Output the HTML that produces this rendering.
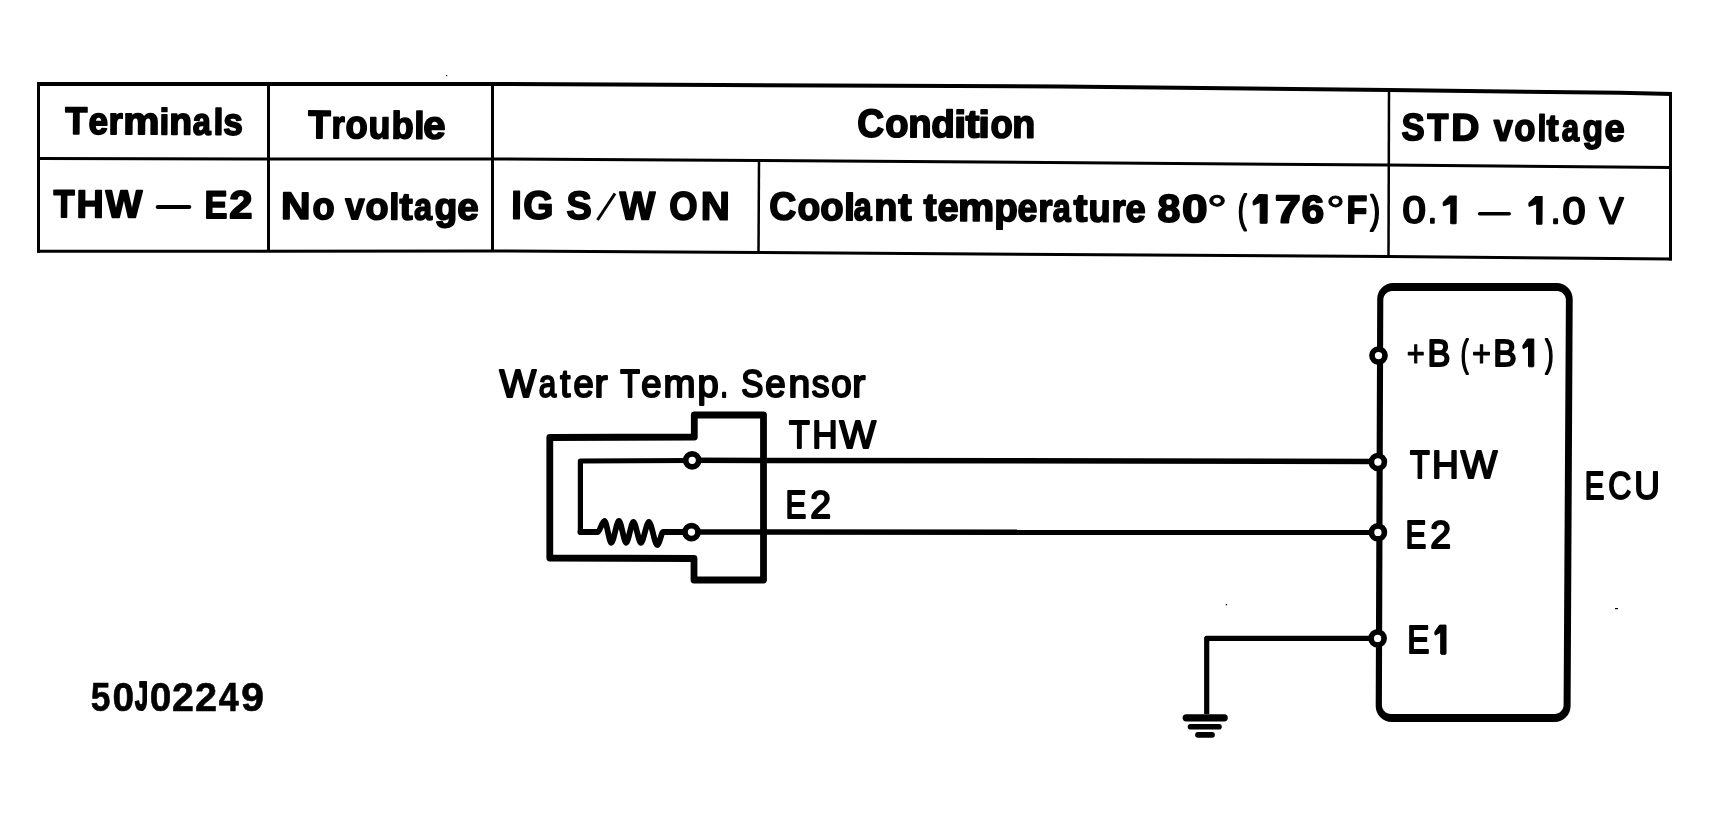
<!DOCTYPE html>
<html><head><meta charset="utf-8"><style>
html,body{margin:0;padding:0;background:#fff;overflow:hidden;}
svg{display:block;}
text{font-family:"Liberation Sans",sans-serif;}
.tx{opacity:0.999;will-change:transform;}
</style></head><body>
<svg width="1709" height="813" viewBox="0 0 1709 813">
<rect width="1709" height="813" fill="#fff"/>

<g fill="none" stroke="#000" stroke-linecap="butt">
 <polyline stroke-width="4" points="37,84 490,84 720,85 1060,86.5 1389,90 1620,92.8 1672,94"/>
 <polyline stroke-width="3" points="38,158.5 268,159 492,159 758,160.5 1388,165 1671,167.5"/>
 <polyline stroke-width="3" points="37,251.3 492,251 759,252.5 1060,254.5 1389,256.5 1672,259"/>
 <line stroke-width="3" x1="38.5" y1="82" x2="38.5" y2="252.8"/>
 <line stroke-width="3" x1="1670.5" y1="92" x2="1670.5" y2="260.5"/>
 <line stroke-width="3" x1="268.5" y1="84" x2="268.5" y2="251"/>
 <line stroke-width="3" x1="492.5" y1="84" x2="492.5" y2="251"/>
 <line stroke-width="2.5" x1="759" y1="160.5" x2="758.5" y2="252.5"/>
 <line stroke-width="2.5" x1="1389" y1="90" x2="1388.5" y2="256.5"/>
</g>
<g stroke="#000" fill="#000">
 <line stroke-width="4.2" stroke-linecap="round" x1="157.8" y1="207" x2="189.2" y2="207"/>
 <line stroke-width="3.5" stroke-linecap="round" x1="1479.6" y1="213.8" x2="1509.2" y2="213.8"/>
 <line stroke-width="3" stroke-linecap="butt" x1="597.5" y1="220" x2="615" y2="193.5"/>
</g>


<g fill="none" stroke="#000">
 <!-- sensor housing -->
 <path stroke-width="6.8" stroke-linejoin="round" d="M694.3,437 L549.8,437.5 L549.8,558 L694,558.5 L694,580 L763.5,580 L763.5,415 L694.3,415 Z"/>
 <!-- inner wire loop -->
 <path stroke-width="5.2" stroke-linejoin="round" d="M692,460.5 L580.4,461 L580.4,532 L598,532"/>
 <path stroke-width="5.8" stroke-linejoin="round" stroke-linecap="round" d="M580.4,532 L598,532 C599.5,532 602.3,520.9 604.5,520.9 C606.54,520.9 609.26,542.8 611.3,542.8 C613.58,542.8 616.62,520.9 618.9,520.9 C621.09,520.9 624.01,542.8 626.2,542.8 C628.36,542.8 631.24,521.8 633.4,521.8 C635.65,521.8 638.65,542.8 640.9,542.8 C643.30,542.8 646.50,521.8 648.9,521.8 C651.39,521.8 654.71,545 657.2,545 C659.4000000000001,545 661.5,532 663,532 L692,532"/>
 <!-- wires to ECU -->
 <line stroke-width="5.5" x1="692" y1="460.3" x2="1378" y2="461.5"/>
 <line stroke-width="5.5" x1="692" y1="532" x2="1378" y2="532.3"/>
 <!-- ECU box -->
 <path fill="#000" stroke="none" fill-rule="evenodd" d="M1393.20,283.10 L1556.70,283.10 C1565.50,283.10 1572.70,290.30 1572.70,299.10 L1570.60,705.90 C1570.60,714.70 1563.40,721.90 1554.60,721.90 L1391.70,721.90 C1382.90,721.90 1375.70,714.70 1375.70,705.90 L1377.20,299.10 C1377.20,290.30 1384.40,283.10 1393.20,283.10 Z M1392.30,290.90 L1556.90,290.90 C1561.85,290.90 1565.90,294.95 1565.90,299.90 L1563.60,705.00 C1563.60,709.95 1559.55,714.00 1554.60,714.00 L1390.90,714.00 C1385.95,714.00 1381.90,709.95 1381.90,705.00 L1383.30,299.90 C1383.30,294.95 1387.35,290.90 1392.30,290.90 Z"/>
 <!-- ground wire -->
 <path stroke-width="5.2" stroke-linejoin="round" d="M1377.6,638.4 L1206.7,638.4 L1206.7,714"/>
</g>
<g stroke="#000" stroke-linecap="round">
 <line stroke-width="7.2" x1="1186.2" y1="717.8" x2="1224.2" y2="717.8"/>
 <line stroke-width="5.6" x1="1190.5" y1="726.8" x2="1219" y2="726.8"/>
 <line stroke-width="5.8" x1="1198" y1="734.8" x2="1212" y2="734.8"/>
</g>
<g fill="#000">
 <rect x="446" y="75" width="1.2" height="1.2"/>
 <rect x="1225.8" y="604" width="1.3" height="1.3"/>
 <rect x="1615" y="608" width="3" height="1.2"/>
</g>
<g fill="#fff" stroke="#000" stroke-width="5.7">
 <circle cx="692.2" cy="460.3" r="6.5"/>
 <circle cx="691.5" cy="532.1" r="6.5"/>
 <circle cx="1378.5" cy="355.6" r="6.5"/>
 <circle cx="1377.9" cy="462" r="6.5"/>
 <circle cx="1377.9" cy="532.4" r="6.5"/>
 <circle cx="1377.6" cy="638.4" r="6.5"/>
</g>

<g class="tx" stroke="#000" stroke-linejoin="round" fill="#000">
<text transform="translate(65.20,133.80) rotate(0.3) scale(0.9431,1.0000)" font-weight="bold" font-size="38.08" stroke-width="1.8">T</text>
<text transform="translate(88.52,133.93) rotate(0.3) scale(0.9203,1.0000)" font-weight="bold" font-size="38.08" stroke-width="1.8">e</text>
<text transform="translate(108.41,134.04) rotate(0.3) scale(0.9564,1.0000)" font-weight="bold" font-size="38.08" stroke-width="1.8">r</text>
<text transform="translate(123.33,134.12) rotate(0.3) scale(1.0672,1.0000)" font-weight="bold" font-size="38.08" stroke-width="1.8">m</text>
<text transform="translate(159.50,134.30) rotate(0.3) scale(0.9146,0.9610)" font-weight="bold" font-size="38.08" stroke-width="1.8">i</text>
<text transform="translate(169.27,134.36) rotate(0.3) scale(0.9796,1.0000)" font-weight="bold" font-size="38.08" stroke-width="1.8">n</text>
<text transform="translate(192.75,134.47) rotate(0.3) scale(0.8497,1.0000)" font-weight="bold" font-size="38.08" stroke-width="1.8">a</text>
<text transform="translate(213.58,134.59) rotate(0.3) scale(0.9283,0.9610)" font-weight="bold" font-size="38.08" stroke-width="1.8">l</text>
<text transform="translate(223.28,134.63) rotate(0.3) scale(0.9209,1.0000)" font-weight="bold" font-size="38.08" stroke-width="1.8">s</text>
<text transform="translate(308.14,137.90) rotate(0.3) scale(0.9315,1.0000)" font-weight="bold" font-size="39.24" stroke-width="1.8">T</text>
<text transform="translate(331.42,138.03) rotate(0.3) scale(0.8610,1.0000)" font-weight="bold" font-size="39.24" stroke-width="1.8">r</text>
<text transform="translate(345.39,138.10) rotate(0.3) scale(0.9230,1.0000)" font-weight="bold" font-size="39.24" stroke-width="1.8">o</text>
<text transform="translate(368.56,138.23) rotate(0.3) scale(0.9105,1.0000)" font-weight="bold" font-size="39.24" stroke-width="1.8">u</text>
<text transform="translate(391.42,138.35) rotate(0.3) scale(0.9239,0.9610)" font-weight="bold" font-size="39.24" stroke-width="1.8">b</text>
<text transform="translate(414.33,138.47) rotate(0.3) scale(0.9334,0.9610)" font-weight="bold" font-size="39.24" stroke-width="1.8">l</text>
<text transform="translate(423.33,138.51) rotate(0.3) scale(1.0163,1.0000)" font-weight="bold" font-size="39.24" stroke-width="1.8">e</text>
<text transform="translate(857.33,136.70) rotate(0.3) scale(0.9418,1.0000)" font-weight="bold" font-size="39.39" stroke-width="1.8">C</text>
<text transform="translate(885.36,136.85) rotate(0.3) scale(0.9639,1.0000)" font-weight="bold" font-size="39.39" stroke-width="1.8">o</text>
<text transform="translate(908.34,136.97) rotate(0.3) scale(0.9673,1.0000)" font-weight="bold" font-size="39.39" stroke-width="1.8">n</text>
<text transform="translate(931.30,137.09) rotate(0.3) scale(0.9769,0.9610)" font-weight="bold" font-size="39.39" stroke-width="1.8">d</text>
<text transform="translate(953.89,137.21) rotate(0.3) scale(1.1192,0.9610)" font-weight="bold" font-size="39.39" stroke-width="1.8">i</text>
<text transform="translate(965.42,137.26) rotate(0.3) scale(1.0640,1.0000)" font-weight="bold" font-size="39.39" stroke-width="1.8">t</text>
<text transform="translate(978.31,137.34) rotate(0.3) scale(1.0518,0.9610)" font-weight="bold" font-size="39.39" stroke-width="1.8">i</text>
<text transform="translate(990.39,137.40) rotate(0.3) scale(0.9201,1.0000)" font-weight="bold" font-size="39.39" stroke-width="1.8">o</text>
<text transform="translate(1012.37,137.52) rotate(0.3) scale(0.9530,1.0000)" font-weight="bold" font-size="39.39" stroke-width="1.8">n</text>
<text transform="translate(1401.59,140.00) rotate(0.3) scale(0.9106,1.0000)" font-weight="bold" font-size="37.94" stroke-width="1.8">S</text>
<text transform="translate(1427.19,140.13) rotate(0.3) scale(0.9078,1.0000)" font-weight="bold" font-size="37.94" stroke-width="1.8">T</text>
<text transform="translate(1451.20,140.27) rotate(0.3) scale(1.0244,1.0000)" font-weight="bold" font-size="37.94" stroke-width="1.8">D</text>
<text transform="translate(1493.63,140.48) rotate(0.3) scale(0.8912,1.0000)" font-weight="bold" font-size="37.94" stroke-width="1.8">v</text>
<text transform="translate(1514.33,140.59) rotate(0.3) scale(0.9081,1.0000)" font-weight="bold" font-size="37.94" stroke-width="1.8">o</text>
<text transform="translate(1537.45,140.72) rotate(0.3) scale(0.8332,0.9610)" font-weight="bold" font-size="37.94" stroke-width="1.8">l</text>
<text transform="translate(1546.38,140.75) rotate(0.3) scale(0.9548,1.0000)" font-weight="bold" font-size="37.94" stroke-width="1.8">t</text>
<text transform="translate(1561.76,140.84) rotate(0.3) scale(0.8211,1.0000)" font-weight="bold" font-size="37.94" stroke-width="1.8">a</text>
<text transform="translate(1582.60,140.95) rotate(0.3) scale(0.8814,1.0000)" font-weight="bold" font-size="37.94" stroke-width="1.8">g</text>
<text transform="translate(1604.40,141.06) rotate(0.3) scale(0.9513,1.0000)" font-weight="bold" font-size="37.94" stroke-width="1.8">e</text>
<text transform="translate(53.38,217.10) rotate(0.3) scale(0.8860,1.0000)" font-weight="bold" font-size="38.81" stroke-width="1.8">T</text>
<text transform="translate(76.44,217.23) rotate(0.3) scale(0.9681,1.0000)" font-weight="bold" font-size="38.81" stroke-width="1.8">H</text>
<text transform="translate(105.52,217.37) rotate(0.3) scale(1.0028,1.0000)" font-weight="bold" font-size="38.81" stroke-width="1.8">W</text>
<text transform="translate(204.49,217.90) rotate(0.3) scale(0.8837,1.0000)" font-weight="bold" font-size="38.81" stroke-width="1.8">E</text>
<text transform="translate(229.29,218.03) rotate(0.3) scale(1.0744,1.0000)" font-weight="bold" font-size="38.81" stroke-width="1.8">2</text>
<text transform="translate(281.12,218.80) rotate(0.3) scale(1.0739,1.0000)" font-weight="bold" font-size="37.94" stroke-width="1.8">N</text>
<text transform="translate(312.50,218.96) rotate(0.3) scale(0.9490,1.0000)" font-weight="bold" font-size="37.94" stroke-width="1.8">o</text>
<text transform="translate(345.34,219.12) rotate(0.3) scale(0.9091,1.0000)" font-weight="bold" font-size="37.94" stroke-width="1.8">v</text>
<text transform="translate(365.48,219.24) rotate(0.3) scale(0.9899,1.0000)" font-weight="bold" font-size="37.94" stroke-width="1.8">o</text>
<text transform="translate(389.33,219.37) rotate(0.3) scale(0.9561,0.9610)" font-weight="bold" font-size="37.94" stroke-width="1.8">l</text>
<text transform="translate(399.41,219.41) rotate(0.3) scale(1.0356,1.0000)" font-weight="bold" font-size="37.94" stroke-width="1.8">t</text>
<text transform="translate(413.95,219.49) rotate(0.3) scale(0.8529,1.0000)" font-weight="bold" font-size="37.94" stroke-width="1.8">a</text>
<text transform="translate(434.44,219.60) rotate(0.3) scale(0.9799,1.0000)" font-weight="bold" font-size="37.94" stroke-width="1.8">g</text>
<text transform="translate(457.27,219.72) rotate(0.3) scale(1.0110,1.0000)" font-weight="bold" font-size="37.94" stroke-width="1.8">e</text>
<text transform="translate(511.24,218.60) rotate(0.3) scale(0.9488,1.0000)" font-weight="bold" font-size="39.53" stroke-width="1.8">I</text>
<text transform="translate(523.28,218.66) rotate(0.3) scale(0.9804,1.0000)" font-weight="bold" font-size="39.53" stroke-width="1.8">G</text>
<text transform="translate(566.44,218.88) rotate(0.3) scale(0.9547,1.0000)" font-weight="bold" font-size="39.53" stroke-width="1.8">S</text>
<text transform="translate(619.58,219.16) rotate(0.3) scale(0.9557,1.0000)" font-weight="bold" font-size="39.53" stroke-width="1.8">W</text>
<text transform="translate(669.13,219.42) rotate(0.3) scale(0.9179,1.0000)" font-weight="bold" font-size="39.53" stroke-width="1.8">O</text>
<text transform="translate(700.63,219.59) rotate(0.3) scale(1.0149,1.0000)" font-weight="bold" font-size="39.53" stroke-width="1.8">N</text>
<text transform="translate(769.22,219.60) rotate(0.33) scale(0.9537,1.0000)" font-weight="bold" font-size="39.10" stroke-width="1.8">C</text>
<text transform="translate(797.57,219.76) rotate(0.33) scale(0.9484,1.0000)" font-weight="bold" font-size="39.10" stroke-width="1.8">o</text>
<text transform="translate(820.35,219.89) rotate(0.33) scale(0.9748,1.0000)" font-weight="bold" font-size="39.10" stroke-width="1.8">o</text>
<text transform="translate(844.00,220.04) rotate(0.33) scale(1.0048,0.9610)" font-weight="bold" font-size="39.10" stroke-width="1.8">l</text>
<text transform="translate(853.84,220.08) rotate(0.33) scale(0.8246,1.0000)" font-weight="bold" font-size="39.10" stroke-width="1.8">a</text>
<text transform="translate(874.35,220.21) rotate(0.33) scale(0.9646,1.0000)" font-weight="bold" font-size="39.10" stroke-width="1.8">n</text>
<text transform="translate(898.20,220.34) rotate(0.33) scale(1.0217,1.0000)" font-weight="bold" font-size="39.10" stroke-width="1.8">t</text>
<text transform="translate(923.39,220.48) rotate(0.33) scale(1.0001,1.0000)" font-weight="bold" font-size="39.10" stroke-width="1.8">t</text>
<text transform="translate(937.46,220.57) rotate(0.33) scale(0.9666,1.0000)" font-weight="bold" font-size="39.10" stroke-width="1.8">e</text>
<text transform="translate(958.12,220.69) rotate(0.33) scale(1.0404,1.0000)" font-weight="bold" font-size="39.10" stroke-width="1.8">m</text>
<text transform="translate(994.22,220.90) rotate(0.33) scale(0.9831,1.0000)" font-weight="bold" font-size="39.10" stroke-width="1.8">p</text>
<text transform="translate(1017.40,221.03) rotate(0.33) scale(0.9086,1.0000)" font-weight="bold" font-size="39.10" stroke-width="1.8">e</text>
<text transform="translate(1038.31,221.16) rotate(0.33) scale(0.9290,1.0000)" font-weight="bold" font-size="39.10" stroke-width="1.8">r</text>
<text transform="translate(1052.84,221.23) rotate(0.33) scale(0.8246,1.0000)" font-weight="bold" font-size="39.10" stroke-width="1.8">a</text>
<text transform="translate(1073.52,221.35) rotate(0.33) scale(1.0649,1.0000)" font-weight="bold" font-size="39.10" stroke-width="1.8">t</text>
<text transform="translate(1088.55,221.44) rotate(0.33) scale(0.9217,1.0000)" font-weight="bold" font-size="39.10" stroke-width="1.8">u</text>
<text transform="translate(1111.51,221.58) rotate(0.33) scale(0.9290,1.0000)" font-weight="bold" font-size="39.10" stroke-width="1.8">r</text>
<text transform="translate(1125.39,221.65) rotate(0.33) scale(0.9231,1.0000)" font-weight="bold" font-size="39.10" stroke-width="1.8">e</text>
<text transform="translate(1157.57,221.84) rotate(0.33) scale(1.0485,1.0000)" font-weight="bold" font-size="39.10" stroke-width="1.8">8</text>
<text transform="translate(1182.12,221.98) rotate(0.33) scale(1.1711,1.0000)" font-weight="bold" font-size="39.10" stroke-width="1.8">0</text>
<text transform="translate(1206.65,222.53) rotate(0.33) scale(1.3048,1.0000)" font-weight="normal" font-size="39.10" stroke-width="1.0">°</text>
<text transform="translate(1237.80,222.20) rotate(0.33) scale(0.6779,1.0000)" font-weight="normal" font-size="39.10" stroke-width="2.0">(</text>
<path d="M1267.10,194.58 L1267.10,222.48 Q1267.10,223.28 1266.30,223.28 L1260.90,223.28 Q1260.10,223.28 1260.10,222.48 L1260.10,202.30 L1253.60,205.01 Q1253.00,205.01 1253.00,204.21 L1253.00,201.21 L1258.90,194.58 Z" transform="rotate(0.33 1253.00 223.28)"/>
<text transform="translate(1274.79,222.51) rotate(0.33) scale(1.1926,1.0000)" font-weight="bold" font-size="39.10" stroke-width="1.8">7</text>
<text transform="translate(1301.60,222.67) rotate(0.33) scale(1.0412,1.0000)" font-weight="bold" font-size="39.10" stroke-width="1.8">6</text>
<text transform="translate(1325.94,223.22) rotate(0.33) scale(1.1988,1.0000)" font-weight="normal" font-size="39.10" stroke-width="1.0">°</text>
<text transform="translate(1346.52,222.93) rotate(0.33) scale(0.8657,1.0000)" font-weight="bold" font-size="39.10" stroke-width="1.8">F</text>
<text transform="translate(1370.34,222.96) rotate(0.33) scale(0.7524,1.0000)" font-weight="normal" font-size="39.10" stroke-width="2.0">)</text>
<text transform="translate(1402.38,222.55) rotate(0.3) scale(1.1172,1.0000)" font-weight="normal" font-size="37.35" stroke-width="2.1">0</text>
<text transform="translate(1428.06,222.69) rotate(0.3) scale(0.8477,1.0000)" font-weight="normal" font-size="37.35" stroke-width="2.1">.</text>
<path d="M1456.10,196.01 L1456.10,223.01 Q1456.10,223.81 1455.30,223.81 L1451.50,223.81 Q1450.70,223.81 1450.70,223.01 L1450.70,203.22 L1443.70,205.85 Q1443.10,205.85 1443.10,205.05 L1443.10,202.45 L1449.50,196.01 Z" transform="rotate(0.3 1443.10 223.81)"/>
<path d="M1542.00,196.46 L1542.00,223.46 Q1542.00,224.26 1541.20,224.26 L1537.40,224.26 Q1536.60,224.26 1536.60,223.46 L1536.60,203.67 L1529.40,206.30 Q1528.80,206.30 1528.80,205.50 L1528.80,202.90 L1535.40,196.46 Z" transform="rotate(0.3 1528.80 224.26)"/>
<text transform="translate(1550.88,223.34) rotate(0.3) scale(0.8823,1.0000)" font-weight="normal" font-size="37.35" stroke-width="2.1">.</text>
<text transform="translate(1562.49,223.39) rotate(0.3) scale(1.1022,1.0000)" font-weight="normal" font-size="37.35" stroke-width="2.1">0</text>
<text transform="translate(1599.48,223.58) rotate(0.3) scale(0.9561,1.0000)" font-weight="normal" font-size="37.35" stroke-width="2.1">V</text>
<text transform="translate(499.58,396.90) rotate(0) scale(1.0248,1.0000)" font-weight="normal" font-size="37.94" stroke-width="2.0">W</text>
<text transform="translate(538.65,396.90) rotate(0) scale(0.8292,1.0000)" font-weight="normal" font-size="37.94" stroke-width="2.0">a</text>
<text transform="translate(560.37,396.90) rotate(0) scale(0.9526,1.0000)" font-weight="normal" font-size="37.94" stroke-width="2.0">t</text>
<text transform="translate(573.38,396.90) rotate(0) scale(0.9577,1.0000)" font-weight="normal" font-size="37.94" stroke-width="2.0">e</text>
<text transform="translate(594.47,396.90) rotate(0) scale(1.0362,1.0000)" font-weight="normal" font-size="37.94" stroke-width="2.0">r</text>
<text transform="translate(620.26,396.90) rotate(0) scale(0.8480,1.0000)" font-weight="normal" font-size="37.94" stroke-width="2.0">T</text>
<text transform="translate(641.28,396.90) rotate(0) scale(0.9627,1.0000)" font-weight="normal" font-size="37.94" stroke-width="2.0">e</text>
<text transform="translate(663.41,396.90) rotate(0) scale(1.0115,1.0000)" font-weight="normal" font-size="37.94" stroke-width="2.0">m</text>
<text transform="translate(697.39,396.90) rotate(0) scale(1.0011,1.0000)" font-weight="normal" font-size="37.94" stroke-width="2.0">p</text>
<text transform="translate(720.17,396.90) rotate(0) scale(0.7341,1.0000)" font-weight="normal" font-size="37.94" stroke-width="2.0">.</text>
<text transform="translate(741.33,396.90) rotate(0) scale(0.8764,1.0000)" font-weight="normal" font-size="37.94" stroke-width="2.0">S</text>
<text transform="translate(765.37,396.90) rotate(0) scale(0.9678,1.0000)" font-weight="normal" font-size="37.94" stroke-width="2.0">e</text>
<text transform="translate(788.48,396.90) rotate(0) scale(1.0298,1.0000)" font-weight="normal" font-size="37.94" stroke-width="2.0">n</text>
<text transform="translate(811.69,396.90) rotate(0) scale(0.9350,1.0000)" font-weight="normal" font-size="37.94" stroke-width="2.0">s</text>
<text transform="translate(831.29,396.90) rotate(0) scale(0.9673,1.0000)" font-weight="normal" font-size="37.94" stroke-width="2.0">o</text>
<text transform="translate(852.37,396.90) rotate(0) scale(1.0362,1.0000)" font-weight="normal" font-size="37.94" stroke-width="2.0">r</text>
<text transform="translate(789.07,447.60) rotate(0) scale(0.8831,1.0000)" font-weight="normal" font-size="38.52" stroke-width="2.0">T</text>
<text transform="translate(812.13,447.60) rotate(0) scale(0.9128,1.0000)" font-weight="normal" font-size="38.52" stroke-width="2.0">H</text>
<text transform="translate(839.46,447.60) rotate(0) scale(1.0030,1.0000)" font-weight="normal" font-size="38.52" stroke-width="2.0">W</text>
<text transform="translate(785.62,517.70) rotate(0) scale(0.8048,1.0000)" font-weight="normal" font-size="38.81" stroke-width="2.0">E</text>
<text transform="translate(810.16,517.70) rotate(0) scale(0.9635,1.0000)" font-weight="normal" font-size="38.81" stroke-width="2.0">2</text>
<text transform="translate(1406.85,366.20) rotate(0) scale(0.8224,1.0000)" font-weight="normal" font-size="37.50" stroke-width="1.2">+</text>
<text transform="translate(1427.55,365.80) rotate(0) scale(0.9163,1.0000)" font-weight="normal" font-size="37.50" stroke-width="2.0">B</text>
<text transform="translate(1460.84,365.80) rotate(0) scale(0.6215,1.0000)" font-weight="normal" font-size="37.50" stroke-width="2.0">(</text>
<text transform="translate(1471.99,366.20) rotate(0) scale(0.8687,1.0000)" font-weight="normal" font-size="37.50" stroke-width="1.2">+</text>
<text transform="translate(1493.20,365.80) rotate(0) scale(0.9388,1.0000)" font-weight="normal" font-size="37.50" stroke-width="2.0">B</text>
<path d="M1533.80,339.00 L1533.80,366.00 Q1533.80,366.80 1533.00,366.80 L1529.30,366.80 Q1528.50,366.80 1528.50,366.00 L1528.50,346.01 L1523.50,348.64 Q1522.90,348.64 1522.90,347.84 L1522.90,345.44 L1527.30,339.00 Z" transform="rotate(0 1522.90 366.80)"/>
<text transform="translate(1545.19,365.80) rotate(0) scale(0.6657,1.0000)" font-weight="normal" font-size="37.50" stroke-width="2.0">)</text>
<text transform="translate(1409.94,477.60) rotate(0) scale(0.8331,1.0000)" font-weight="normal" font-size="38.81" stroke-width="2.0">T</text>
<text transform="translate(1432.02,477.60) rotate(0) scale(0.9564,1.0000)" font-weight="normal" font-size="38.81" stroke-width="2.0">H</text>
<text transform="translate(1460.66,477.60) rotate(0) scale(0.9971,1.0000)" font-weight="normal" font-size="38.81" stroke-width="2.0">W</text>
<text transform="translate(1405.62,547.70) rotate(0) scale(0.8048,1.0000)" font-weight="normal" font-size="38.81" stroke-width="2.0">E</text>
<text transform="translate(1430.16,547.70) rotate(0) scale(0.9635,1.0000)" font-weight="normal" font-size="38.81" stroke-width="2.0">2</text>
<text transform="translate(1407.35,653.30) rotate(0) scale(0.8420,1.0000)" font-weight="normal" font-size="39.53" stroke-width="2.0">E</text>
<path d="M1446.00,625.10 L1446.00,653.50 Q1446.00,654.30 1445.20,654.30 L1441.50,654.30 Q1440.70,654.30 1440.70,653.50 L1440.70,632.27 L1435.50,635.03 Q1434.90,635.03 1434.90,634.23 L1434.90,631.83 L1439.50,625.10 Z" transform="rotate(0 1434.90 654.30)"/>
<text transform="translate(1584.63,499.20) rotate(0) scale(0.7474,1.0000)" font-weight="normal" font-size="39.39" stroke-width="2.0">E</text>
<text transform="translate(1608.26,499.20) rotate(0) scale(0.8126,1.0000)" font-weight="normal" font-size="39.39" stroke-width="2.0">C</text>
<text transform="translate(1634.18,499.20) rotate(0) scale(0.8997,1.0000)" font-weight="normal" font-size="39.39" stroke-width="2.0">U</text>
<text transform="translate(90.71,710.60) rotate(0) scale(0.8640,1.0000)" font-weight="bold" font-size="41.13" stroke-width="0.6">5</text>
<text transform="translate(112.61,710.60) rotate(0) scale(0.9448,1.0000)" font-weight="bold" font-size="41.13" stroke-width="0.6">0</text>
<text transform="translate(135.01,709.80) rotate(0) scale(0.5678,1.0000)" font-weight="bold" font-size="41.13" stroke-width="2.2">J</text>
<text transform="translate(149.81,710.60) rotate(0) scale(0.9448,1.0000)" font-weight="bold" font-size="41.13" stroke-width="0.6">0</text>
<text transform="translate(172.01,710.60) rotate(0) scale(0.9614,1.0000)" font-weight="bold" font-size="41.13" stroke-width="0.6">2</text>
<text transform="translate(195.00,710.60) rotate(0) scale(0.9663,1.0000)" font-weight="bold" font-size="41.13" stroke-width="0.6">2</text>
<text transform="translate(218.70,710.60) rotate(0) scale(0.8764,1.0000)" font-weight="bold" font-size="41.13" stroke-width="0.6">4</text>
<text transform="translate(241.06,710.60) rotate(0) scale(1.0075,1.0000)" font-weight="bold" font-size="41.13" stroke-width="0.6">9</text>
</g>
</svg>
</body></html>
